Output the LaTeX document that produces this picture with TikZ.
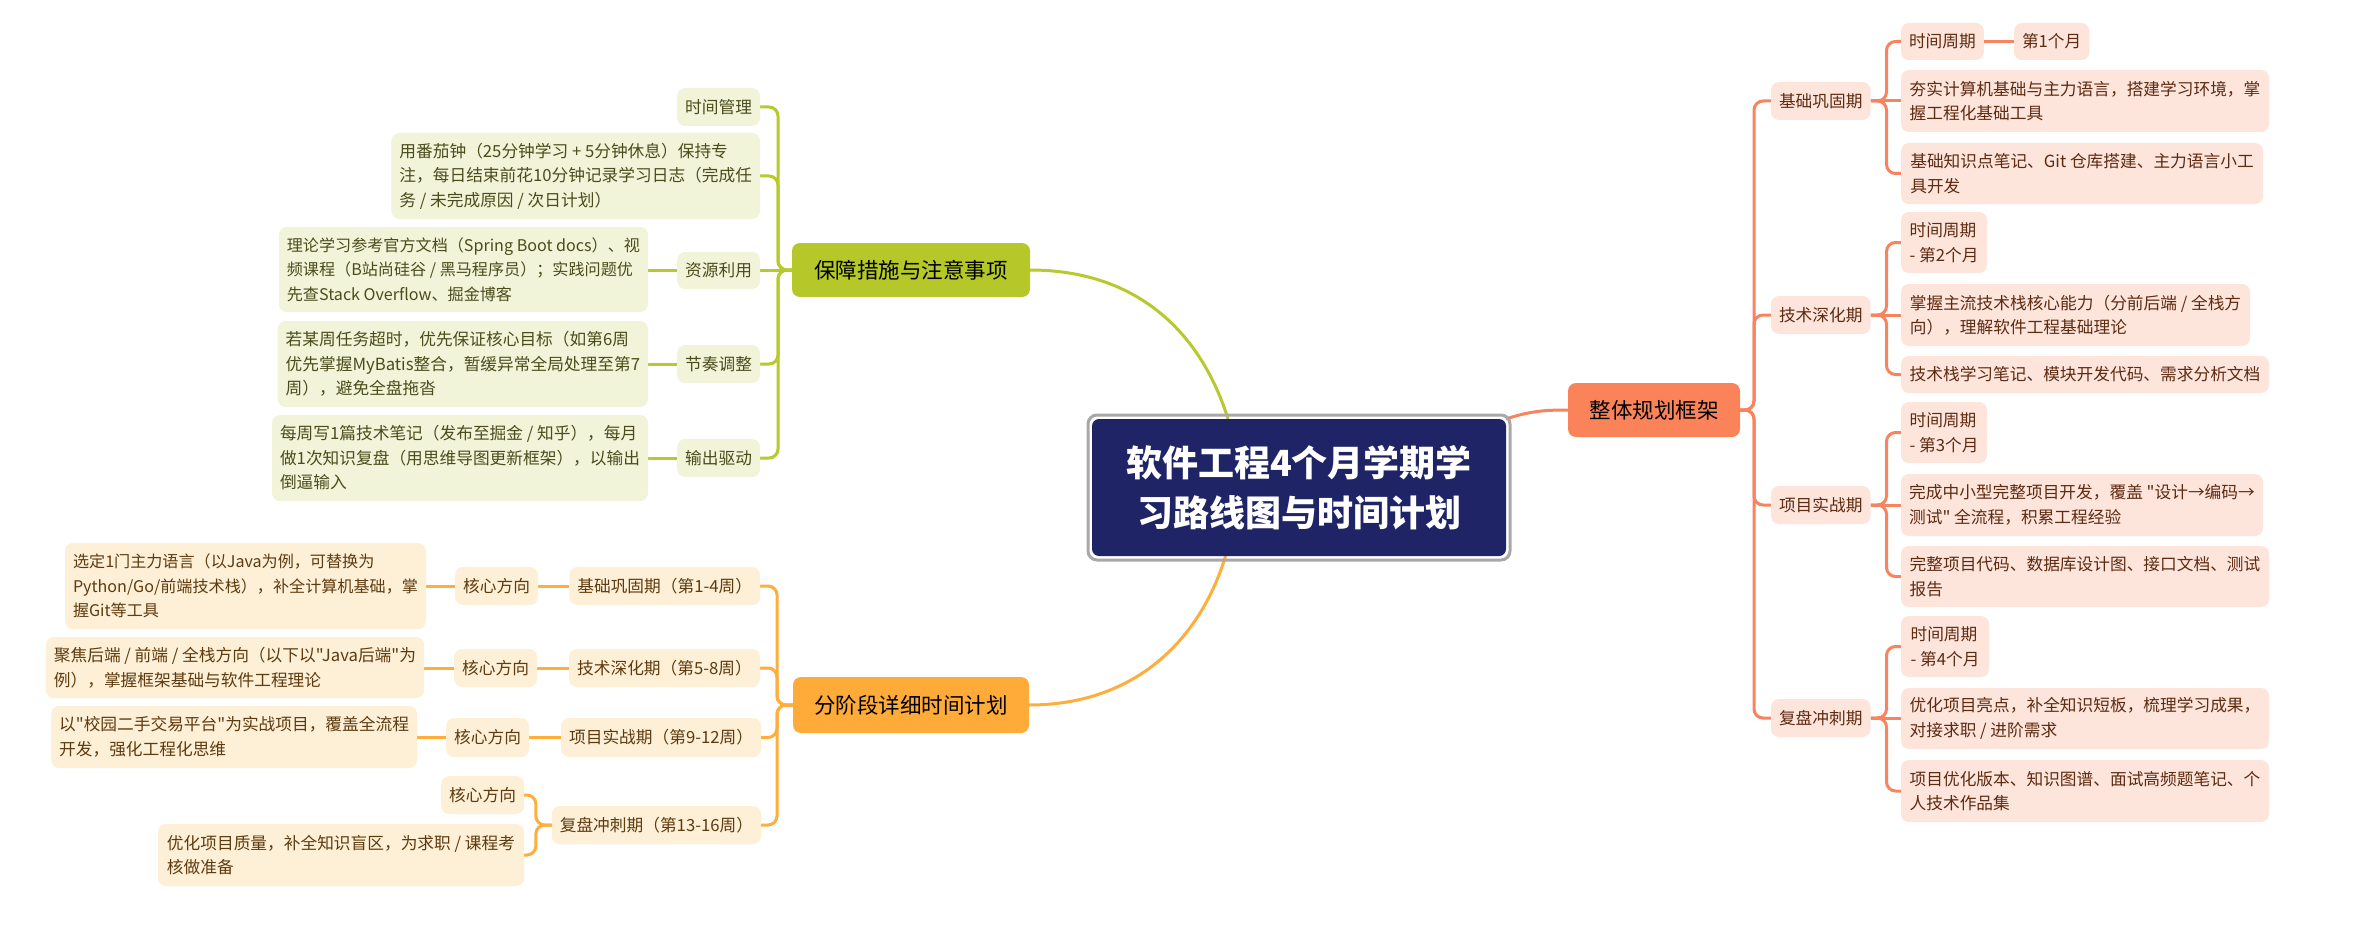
\documentclass[tikz,border=0pt]{standalone}
\usepackage{fontspec}
\setmainfont{Noto Sans CJK SC}
\newfontfamily\cjkplain{Noto Sans CJK SC}
\usetikzlibrary{backgrounds}
\definecolor{orgline}{HTML}{F7845E}
\definecolor{orgmain}{HTML}{FA8359}
\definecolor{orgleaf}{HTML}{FDE5DC}
\definecolor{orgtext}{HTML}{5E2A10}
\definecolor{grnline}{HTML}{B7C92C}
\definecolor{grnmain}{HTML}{B6C829}
\definecolor{grnleaf}{HTML}{F1F4D8}
\definecolor{grntext}{HTML}{4B4C1C}
\definecolor{ambline}{HTML}{FFAD3B}
\definecolor{ambmain}{HTML}{FEAB39}
\definecolor{ambleaf}{HTML}{FEEFD7}
\definecolor{ambtext}{HTML}{5E3B0F}
\definecolor{navy}{HTML}{1F2466}
\definecolor{framegray}{HTML}{A8A8A8}
\newcommand\fleaf{\cjkplain\fontsize{16.7}{24.5}\selectfont}
\newcommand\fleafs{\cjkplain\fontsize{16.1}{24.5}\selectfont}
\newcommand\fmain{\cjkplain\fontsize{21.5}{26}\selectfont}
\newcommand\fcentral{\cjkplain\fontsize{36}{50}\selectfont\bfseries}
\newcommand\mmboxW[7]{%
  \pgfmathsetmacro\mmw{#5-#3}\pgfmathsetmacro\mmh{#6-#4}\pgfmathsetmacro\mmy{(#4+#6)/2}%
  \node[#2,anchor=west,minimum width=\mmw pt,minimum height=\mmh pt] (#1) at (#3,\mmy) {#7};}
\newcommand\mmboxE[7]{%
  \pgfmathsetmacro\mmw{#5-#3}\pgfmathsetmacro\mmh{#6-#4}\pgfmathsetmacro\mmy{(#4+#6)/2}%
  \node[#2,anchor=east,minimum width=\mmw pt,minimum height=\mmh pt] (#1) at (#5,\mmy) {#7};}
\tikzset{
  boxbase/.style={rounded corners=8pt,inner xsep=8pt,inner ysep=0pt,outer sep=0pt},
  leafO/.style={boxbase,fill=orgleaf,text=orgtext,font=\fleaf,align=left},
  leafG/.style={boxbase,fill=grnleaf,text=grntext,font=\fleaf,align=left},
  leafA/.style={boxbase,fill=ambleaf,text=ambtext,font=\fleaf,align=left},
  mainO/.style={boxbase,fill=orgmain,text=black,font=\fmain,align=center},
  mainG/.style={boxbase,fill=grnmain,text=black,font=\fmain,align=center},
  mainA/.style={boxbase,fill=ambmain,text=black,font=\fmain,align=center},
  olink/.style={draw=orgline,line width=3pt,rounded corners=9pt},
  glink/.style={draw=grnline,line width=3pt,rounded corners=9pt},
  alink/.style={draw=ambline,line width=3pt,rounded corners=9pt},
}
\begin{document}
\begin{tikzpicture}[x=1pt,y=-1pt]
\useasboundingbox (0,0) rectangle (2354,939);
% central
\mmboxW{C}{boxbase,fill=navy,text=white,font=\fcentral,align=center,rounded corners=7pt}{1092}{419}{1506}{556}{软件工程4个月学期学\\习路线图与时间计划}
\draw[framegray,line width=3pt,rounded corners=9pt] ([shift={(-4,-4)}]C.north west) rectangle ([shift={(4,4)}]C.south east);
% right branch
\mmboxW{R0}{mainO}{1568}{383}{1740}{437}{整体规划框架}
\mmboxW{R1}{leafO}{1771}{82}{1869}{120}{基础巩固期}
\mmboxW{R2}{leafO}{1771}{296}{1869}{334}{技术深化期}
\mmboxW{R3}{leafO}{1771}{486}{1869}{524}{项目实战期}
\mmboxW{R4}{leafO}{1771}{699}{1869}{737}{复盘冲刺期}
\mmboxW{R1a}{leafO}{1901}{23}{1983}{60}{时间周期}
\mmboxW{R1x}{leafO}{2014}{23}{2086}{60}{第1个月}
\mmboxW{R1b}{leafO}{1901}{70}{2269}{132}{夯实计算机基础与主力语言，搭建学习环境，掌\\握工程化基础工具}
\mmboxW{R1c}{leafO}{1901}{143}{2263}{204}{基础知识点笔记、Git 仓库搭建、主力语言小工\\具开发}
\mmboxW{R2a}{leafO}{1901}{212}{1987}{273}{时间周期\\- 第2个月}
\mmboxW{R2b}{leafO}{1901}{284}{2250}{346}{掌握主流技术栈核心能力（分前后端 / 全栈方\\向），理解软件工程基础理论}
\mmboxW{R2c}{leafO}{1901}{356}{2269}{393}{技术栈学习笔记、模块开发代码、需求分析文档}
\mmboxW{R3a}{leafO}{1901}{402}{1987}{463}{时间周期\\- 第3个月}
\mmboxW{R3b}{leafO}{1901}{474}{2263}{536}{完成中小型完整项目开发，覆盖 "设计→编码→\\测试" 全流程，积累工程经验}
\mmboxW{R3c}{leafO}{1901}{546}{2269}{607}{完整项目代码、数据库设计图、接口文档、测试\\报告}
\mmboxW{R4a}{leafO}{1901}{616}{1989}{677}{时间周期\\- 第4个月}
\mmboxW{R4b}{leafO}{1901}{688}{2269}{749}{优化项目亮点，补全知识短板，梳理学习成果，\\对接求职 / 进阶需求}
\mmboxW{R4c}{leafO}{1901}{760}{2269}{822}{项目优化版本、知识图谱、面试高频题笔记、个\\人技术作品集}
% green branch
\mmboxW{G0}{mainG}{792}{243}{1030}{297}{保障措施与注意事项}
\mmboxE{G1}{leafG}{679}{88}{760}{126}{时间管理}
\mmboxE{G2}{leafG}{394}{133}{760}{219}{用番茄钟（25分钟学习 + 5分钟休息）保持专\\注，每日结束前花10分钟记录学习日志（完成任\\务 / 未完成原因 / 次日计划）}
\mmboxE{G3}{leafG}{679}{252}{760}{289}{资源利用}
\mmboxE{G3a}{leafG,font=\fleafs}{279}{227}{648}{312}{理论学习参考官方文档（Spring Boot docs）、视\\频课程（B站尚硅谷 / 黑马程序员）；实践问题优\\先查Stack Overflow、掘金博客}
\mmboxE{G4}{leafG}{679}{345}{760}{383}{节奏调整}
\mmboxE{G4a}{leafG}{281}{321}{648}{407}{若某周任务超时，优先保证核心目标（如第6周\\优先掌握MyBatis整合，暂缓异常全局处理至第7\\周），避免全盘拖沓}
\mmboxE{G5}{leafG}{679}{439}{760}{477}{输出驱动}
\mmboxE{G5a}{leafG}{282}{415}{648}{501}{每周写1篇技术笔记（发布至掘金 / 知乎），每月\\做1次知识复盘（用思维导图更新框架），以输出\\倒逼输入}
% amber branch
\mmboxW{A0}{mainA}{793}{677}{1029}{733}{分阶段详细时间计划}
\mmboxE{A1}{leafA}{571}{567}{760}{605}{基础巩固期（第1-4周）}
\mmboxE{A1k}{leafA}{457}{567}{538}{605}{核心方向}
\mmboxE{A1t}{leafA,font=\fleafs}{65}{543}{426}{629}{选定1门主力语言（以Java为例，可替换为\\Python/Go/前端技术栈），补全计算机基础，掌\\握Git等工具}
\mmboxE{A2}{leafA}{569}{649}{760}{687}{技术深化期（第5-8周）}
\mmboxE{A2k}{leafA}{456}{649}{537}{687}{核心方向}
\mmboxE{A2t}{leafA}{50}{637}{424}{698}{聚焦后端 / 前端 / 全栈方向（以下以"Java后端"为\\例），掌握框架基础与软件工程理论}
\mmboxE{A3}{leafA}{562}{718}{761}{757}{项目实战期（第9-12周）}
\mmboxE{A3k}{leafA}{449}{718}{529}{757}{核心方向}
\mmboxE{A3t}{leafA}{53}{706}{417}{768}{以"校园二手交易平台"为实战项目，覆盖全流程\\开发，强化工程化思维}
\mmboxE{A4}{leafA}{556}{806}{761}{844}{复盘冲刺期（第13-16周）}
\mmboxE{A4k}{leafA}{444}{776}{524}{814}{核心方向}
\mmboxE{A4t}{leafA}{158}{824}{524}{886}{优化项目质量，补全知识盲区，为求职 / 课程考\\核做准备}
% connectors
\begin{scope}[on background layer]
\fill[white] (0,0) rectangle (2354,939);
\draw[orgline,line width=3pt] (C.north east) .. controls (1530,411) and (1545,410) .. (R0.west);
\draw[grnline,line width=3pt] (G0.east) .. controls (1135,270) and (1200,330) .. (C.136);
\draw[ambline,line width=3pt] (A0.east) .. controls (1135,705) and (1200,640) .. (C.223);
% right
\foreach \n in {R1,R2,R3,R4} {\draw[olink] (R0.east) -- ++(14,0) |- (\n.west);}
\draw[olink] (R1.east) -- ++(16,0) |- (R1a.west);
\draw[olink] (R1.east) -- (R1.east -| R1b.west);
\draw[olink] (R1.east) -- ++(16,0) |- (R1c.west);
\draw[olink] (R1a.east) -- (R1x.west);
\draw[olink] (R2.east) -- ++(16,0) |- (R2a.west);
\draw[olink] (R2.east) -- (R2.east -| R2b.west);
\draw[olink] (R2.east) -- ++(16,0) |- (R2c.west);
\draw[olink] (R3.east) -- ++(16,0) |- (R3a.west);
\draw[olink] (R3.east) -- (R3.east -| R3b.west);
\draw[olink] (R3.east) -- ++(16,0) |- (R3c.west);
\draw[olink] (R4.east) -- ++(16,0) |- (R4a.west);
\draw[olink] (R4.east) -- (R4.east -| R4b.west);
\draw[olink] (R4.east) -- ++(16,0) |- (R4c.west);
% green
\foreach \n in {G1,G2,G4,G5} {\draw[glink] (G0.west) -- ++(-14,0) |- (\n.east);}
\draw[glink] (G0.west) -- (G0.west -| G3.east);
\draw[glink] (G3.west) -- (G3.west -| G3a.east);
\draw[glink] (G4.west) -- (G4.west -| G4a.east);
\draw[glink] (G5.west) -- (G5.west -| G5a.east);
% amber
\foreach \n in {A1,A2,A3,A4} {\draw[alink] (A0.west) -- ++(-16,0) |- (\n.east);}
\draw[alink] (A1.west) -- (A1k.east);
\draw[alink] (A1k.west) -- (A1k.west -| A1t.east);
\draw[alink] (A2.west) -- (A2k.east);
\draw[alink] (A2k.west) -- (A2k.west -| A2t.east);
\draw[alink] (A3.west) -- (A3k.east);
\draw[alink] (A3k.west) -- (A3k.west -| A3t.east);
\draw[alink] (A4.west) -- ++(-16,0) |- (A4k.east);
\draw[alink] (A4.west) -- ++(-16,0) |- (A4t.east);
\end{scope}
\end{tikzpicture}
\end{document}
